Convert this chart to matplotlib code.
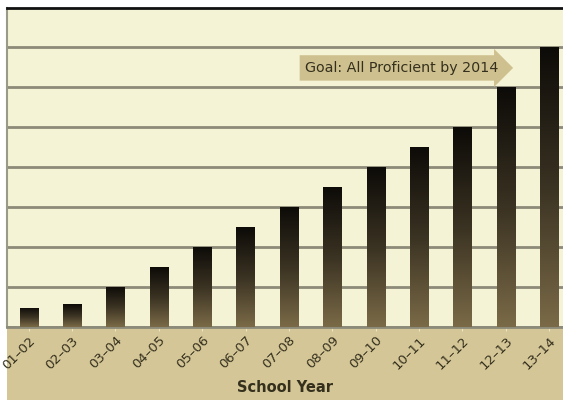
import numpy as np
import matplotlib
matplotlib.use("Agg")
import matplotlib.pyplot as plt
from matplotlib.patches import Rectangle
from matplotlib.transforms import ScaledTranslation

# School years and percent-proficient targets (13-14 = 100%)
YEARS = ["01–02", "02–03", "03–04", "04–05", "05–06", "06–07", "07–08",
         "08–09", "09–10", "10–11", "11–12", "12–13", "13–14"]
TARGETS = [6.8, 8.2, 14.3, 21.4, 28.6, 35.7, 42.9, 50.0, 57.1, 64.3, 71.4, 85.7, 100.0]
GRID_STEP = 100 / 7
GOAL_TEXT = "Goal: All Proficient by 2014"

BG = "#f5f3d5"
TAN = "#d4c697"
GRID = "#8c8a78"
TEXT = "#34301d"

fig = plt.figure(figsize=(5.63, 4.0), dpi=100)
fig.patch.set_facecolor("white")
fig.add_artist(Rectangle((7 / 563, 0), 1, 0.185, transform=fig.transFigure,
                         facecolor=TAN, edgecolor="none", zorder=0))

ax = fig.add_axes([7 / 563, 0.1825, 1 - 7 / 563, 0.7975])
ax.set_facecolor(BG)

x = np.arange(len(YEARS))
bars = ax.bar(x, TARGETS, width=0.42, color="none", edgecolor="none", zorder=3)

# vertical gradient: black at top, olive brown at bottom
grad = np.linspace(0, 1, 256).reshape(-1, 1)
cmap = matplotlib.colors.LinearSegmentedColormap.from_list(
    "bar", ["#7a6a47", "#3a3222", "#0d0b08"])
for b in bars:
    x0, y0 = b.get_x(), b.get_y()
    w, h = b.get_width(), b.get_height()
    im = ax.imshow(grad, extent=[x0, x0 + w, y0, y0 + h], origin="lower",
                   cmap=cmap, aspect="auto", zorder=3)
    im.set_clip_path(b)

ax.set_xlim(-0.5, 12.32)
ax.set_ylim(0, 113.9)
ax.set_yticks(np.arange(0, 113, GRID_STEP))
ax.yaxis.grid(True, color=GRID, linewidth=2, zorder=1)
ax.tick_params(axis="y", left=False, labelleft=False)

ax.set_xticks(x)
ax.set_xticklabels(YEARS, rotation=45, ha="right", va="top",
                   rotation_mode="anchor", fontsize=9.5, color=TEXT)
shift = ScaledTranslation(7 / 100, 0, fig.dpi_scale_trans)
for lbl in ax.get_xticklabels():
    lbl.set_transform(lbl.get_transform() + shift)
ax.tick_params(axis="x", length=3, color="#ece5c4", pad=2)
ax.set_xlabel("School Year", fontsize=10.5, fontweight="bold", color=TEXT, labelpad=6)

ax.spines["right"].set_visible(False)
ax.spines["top"].set_color("#111111")
ax.spines["top"].set_linewidth(2)
ax.spines["left"].set_color("#9a9a8a")
ax.spines["left"].set_linewidth(1.5)
ax.spines["bottom"].set_color(GRID)
ax.spines["bottom"].set_linewidth(2)

ax.text(6.38, 92.5, GOAL_TEXT, fontsize=10.3, color=TEXT, ha="left", va="center",
        zorder=5,
        bbox=dict(boxstyle="rarrow,pad=0.4", facecolor="#cfc18f", edgecolor="none"))

fig.savefig("out.png", dpi=100)
